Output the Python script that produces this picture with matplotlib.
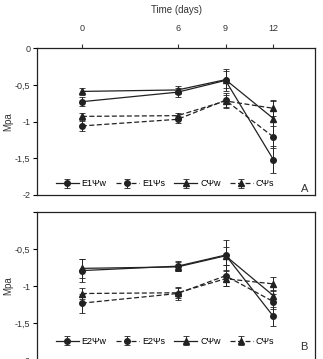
import numpy as np
import matplotlib.pyplot as plt

# time points (days)
days = [0, 6, 9, 12]

# panel A values (Mpa)
e1_w = [-0.73, -0.60, -0.44, -1.52]
e1_w_err = [0.06, 0.06, 0.15, 0.18]
e1_s = [-1.06, -0.97, -0.71, -1.21]
e1_s_err = [0.07, 0.05, 0.10, 0.15]
ca_w = [-0.59, -0.57, -0.43, -0.96]
ca_w_err = [0.05, 0.05, 0.12, 0.25]
ca_s = [-0.93, -0.92, -0.72, -0.82]
ca_s_err = [0.05, 0.04, 0.08, 0.10]

# panel B values (Mpa)
e2_w = [-0.79, -0.73, -0.58, -1.41]
e2_w_err = [0.16, 0.07, 0.20, 0.13]
e2_s = [-1.23, -1.10, -0.86, -1.21]
e2_s_err = [0.13, 0.09, 0.14, 0.10]
cb_w = [-0.76, -0.74, -0.59, -1.13]
cb_w_err = [0.13, 0.06, 0.12, 0.08]
cb_s = [-1.10, -1.09, -0.90, -0.97]
cb_s_err = [0.07, 0.07, 0.10, 0.10]

yticks = [0, -0.5, -1, -1.5, -2]
yticklabels = ['0', '-0,5', '-1', '-1,5', '-2']

plt.rcParams['font.family'] = 'Liberation Sans'
col = '#222222'

fig = plt.figure(figsize=(3.23, 3.59), dpi=100)
axA = fig.add_axes([0.115, 0.457, 0.86, 0.409])
axB = fig.add_axes([0.115, -0.003, 0.86, 0.412])


def draw(ax, series, names, letter, leg_y, let_y):
    styles = [('o', '-'), ('o', '--'), ('^', '-'), ('^', '--')]
    for (vals, err), name, (m, ls) in zip(series, names, styles):
        ax.errorbar(days, vals, yerr=err, color=col, marker=m, ms=4,
                    ls=ls, lw=0.9, elinewidth=0.7, capsize=2,
                    capthick=0.6, label=name, dashes=(4, 2) if ls == '--' else (None, None))
    ax.set_xlim(-2.8, 14.6)
    ax.set_ylim(-2, 0)
    ax.set_yticks(yticks)
    ax.set_yticklabels(yticklabels, fontsize=6.5, color='#333333')
    ax.set_ylabel('Mpa', fontsize=7, color='#333333', labelpad=1)
    ax.tick_params(axis='y', length=3, width=0.8, pad=2)
    for s in ax.spines.values():
        s.set_linewidth(0.9)
        s.set_color(col)
    ax.legend(loc='center', ncol=4, frameon=False, fontsize=6.5,
              handlelength=2.6, handletextpad=0.3, columnspacing=1.0,
              bbox_to_anchor=(0.46, leg_y), borderaxespad=0.0)
    ax.text(0.975, let_y, letter, transform=ax.transAxes, ha='right',
            va='center', fontsize=8, color='#333333')


draw(axA, [(e1_w, e1_w_err), (e1_s, e1_s_err), (ca_w, ca_w_err), (ca_s, ca_s_err)],
     ['E1Ψw', 'E1Ψs', 'CΨw', 'CΨs'], 'A', 0.075, 0.04)
axA.xaxis.tick_top()
axA.set_xticks(days)
axA.tick_params(axis='x', labelsize=6.5, length=3, width=0.8, pad=8, colors='#333333')
axA.xaxis.set_label_position('top')
axA.set_xlabel('Time (days)', fontsize=7, color='#333333', labelpad=8)

draw(axB, [(e2_w, e2_w_err), (e2_s, e2_s_err), (cb_w, cb_w_err), (cb_s, cb_s_err)],
     ['E2Ψw', 'E2Ψs', 'CΨw', 'CΨs'], 'B', 0.125, 0.09)
axB.set_xticks([])
axB.set_yticklabels([''] + yticklabels[1:])

plt.savefig('out.png', dpi=100)
